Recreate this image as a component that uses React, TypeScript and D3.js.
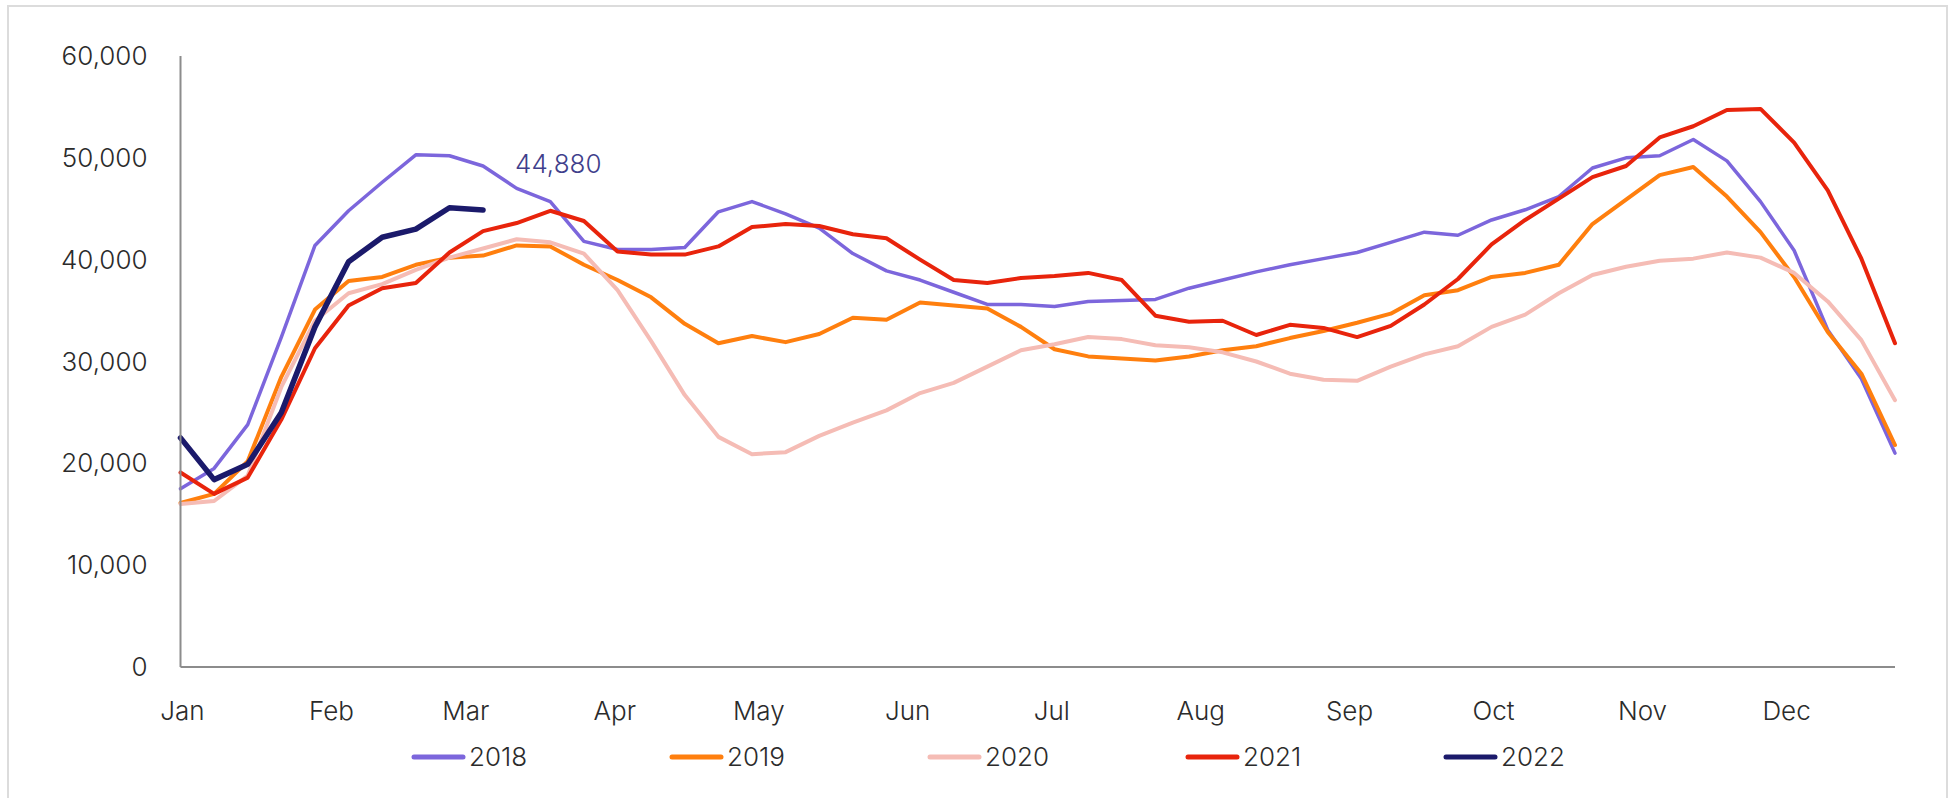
import React from 'react';
import { scaleLinear, line, format } from 'd3';

// weekly values, 52 weeks (week index i = day 7*i)
const weeks = Array.from({ length: 52 }, (_, i) => i);

const years = ['2018', '2019', '2020', '2021', '2022'];

const v2018 = [17500, 19500, 23800, 32400, 41400, 44800, 47600, 50300, 50200, 49200, 47000, 45700, 41800, 41000, 41000, 41200, 44700, 45700, 44500, 43100, 40600, 38900, 38000, 36800, 35600, 35600, 35400, 35900, 36000, 36100, 37200, 38000, 38800, 39500, 40100, 40700, 41700, 42700, 42400, 43900, 44900, 46200, 49000, 50000, 50200, 51800, 49700, 45700, 40900, 33100, 28300, 21000];
const v2019 = [16100, 17000, 20200, 28500, 35100, 37900, 38300, 39500, 40200, 40400, 41400, 41300, 39500, 38000, 36300, 33700, 31800, 32500, 31900, 32700, 34300, 34100, 35800, 35500, 35200, 33400, 31200, 30500, 30300, 30100, 30500, 31100, 31500, 32300, 33000, 33800, 34700, 36500, 37000, 38300, 38700, 39500, 43500, 45900, 48300, 49100, 46200, 42700, 38300, 32900, 28800, 21800];
const v2020 = [16000, 16300, 18800, 27500, 34000, 36700, 37600, 39000, 40200, 41100, 42000, 41700, 40600, 37000, 32000, 26700, 22600, 20900, 21100, 22700, 24000, 25200, 26900, 27900, 29500, 31100, 31700, 32400, 32200, 31600, 31400, 30900, 30000, 28800, 28200, 28100, 29500, 30700, 31500, 33400, 34600, 36700, 38500, 39300, 39900, 40100, 40700, 40200, 38700, 35900, 32100, 26200];
const v2021 = [19100, 17000, 18600, 24300, 31300, 35500, 37200, 37700, 40700, 42800, 43600, 44800, 43800, 40800, 40500, 40500, 41300, 43200, 43500, 43300, 42500, 42100, 40000, 38000, 37700, 38200, 38400, 38700, 38000, 34500, 33900, 34000, 32600, 33600, 33300, 32400, 33500, 35600, 38100, 41500, 43900, 46000, 48100, 49200, 52000, 53100, 54700, 54800, 51500, 46800, 40100, 31800];
const v2022 = [22500, 18400, 19900, 25000, 33400, 39800, 42200, 43000, 45100, 44880];

const seriesValues = [v2018, v2019, v2020, v2021, v2022];
const colors = ['#7c66dc', '#ff7f0e', '#f5bcb5', '#e8240c', '#1b1a6b'];
const strokeWidths = [3.5, 4, 4, 4, 5.5];

const monthLabels = ['Jan', 'Feb', 'Mar', 'Apr', 'May', 'Jun', 'Jul', 'Aug', 'Sep', 'Oct', 'Nov', 'Dec'];
const monthStartDays = [0, 31, 59, 90, 120, 151, 181, 212, 243, 273, 304, 334];
const yTicks = [0, 10000, 20000, 30000, 40000, 50000, 60000];

const App = () => {
  const width = 1952;
  const height = 798;
  const margin = { top: 56, right: 57, bottom: 131, left: 180.5 };
  const innerWidth = width - margin.left - margin.right;
  const innerHeight = height - margin.top - margin.bottom;
  const font = 'Inter, "DejaVu Sans", sans-serif';
  const textColor = '#2b2b2b';
  const axisColor = '#8c8c8c';

  const xScale = scaleLinear().domain([0, 7 * (weeks.length - 1)]).range([0, innerWidth]);
  const yScale = scaleLinear().domain([0, 60000]).range([innerHeight, 0]);

  const lineGen = line<number>()
    .x((d, i) => xScale(weeks[i] * 7))
    .y((d) => yScale(d));

  const fmt = format(',');

  // last point of 2022 gets a data label
  const lastIdx = v2022.length - 1;
  const lastX = xScale(weeks[lastIdx] * 7);
  const lastY = yScale(v2022[lastIdx]);

  /* legend */
  const legendX0 = 412;
  const legendStep = 258;
  const legendY = 757;

  return (
    <svg width={width} height={height} style={{ position: 'absolute', left: 0, top: 0, background: '#fff' }}>
      {/* frame */}
      <rect x={8} y={6} width={1939} height={830} fill="#fff" stroke="#dcdcdc" strokeWidth={2} />

      <g transform={`translate(${margin.left},${margin.top})`}>
        {/* y tick labels */}
        {yTicks.map((t) => (
          <text
            key={t}
            x={-33}
            y={yScale(t)}
            dy="0.35em"
            textAnchor="end"
            fontFamily={font}
            fontSize={26}
            fontWeight={300}
            fill={textColor}
          >
            {fmt(t)}
          </text>
        ))}

        {/* month labels */}
        {monthLabels.map((m, i) => (
          <text
            key={m}
            x={xScale(monthStartDays[i]) + 2}
            y={innerHeight + 53}
            textAnchor="middle"
            fontFamily={font}
            fontSize={26}
            fontWeight={300}
            fill={textColor}
          >
            {m}
          </text>
        ))}

        {/* series */}
        {seriesValues.map((vals, s) => (
          <path
            key={years[s]}
            d={lineGen(vals) || ''}
            fill="none"
            stroke={colors[s]}
            strokeWidth={strokeWidths[s]}
            strokeLinejoin="round"
            strokeLinecap="round"
          />
        ))}

        {/* axes */}
        <line x1={0} y1={0} x2={0} y2={innerHeight} stroke={axisColor} strokeWidth={2} />
        <line x1={0} y1={innerHeight} x2={innerWidth} y2={innerHeight} stroke={axisColor} strokeWidth={2} />

        <text x={lastX + 32} y={lastY - 37} fontFamily={font} fontSize={26} fontWeight={300} fill="#3f3f8c">
          {fmt(v2022[lastIdx])}
        </text>
      </g>

      {/* legend */}
      {years.map((y, i) => (
        <g key={y} transform={`translate(${legendX0 + i * legendStep},${legendY})`}>
          <line x1={2} x2={51} y1={0} y2={0} stroke={colors[i]} strokeWidth={5} strokeLinecap="round" />
          <text x={57} y={0} dy="0.36em" fontFamily={font} fontSize={26} fontWeight={300} fill={textColor}>
            {y}
          </text>
        </g>
      ))}
    </svg>
  );
};

export default App;
